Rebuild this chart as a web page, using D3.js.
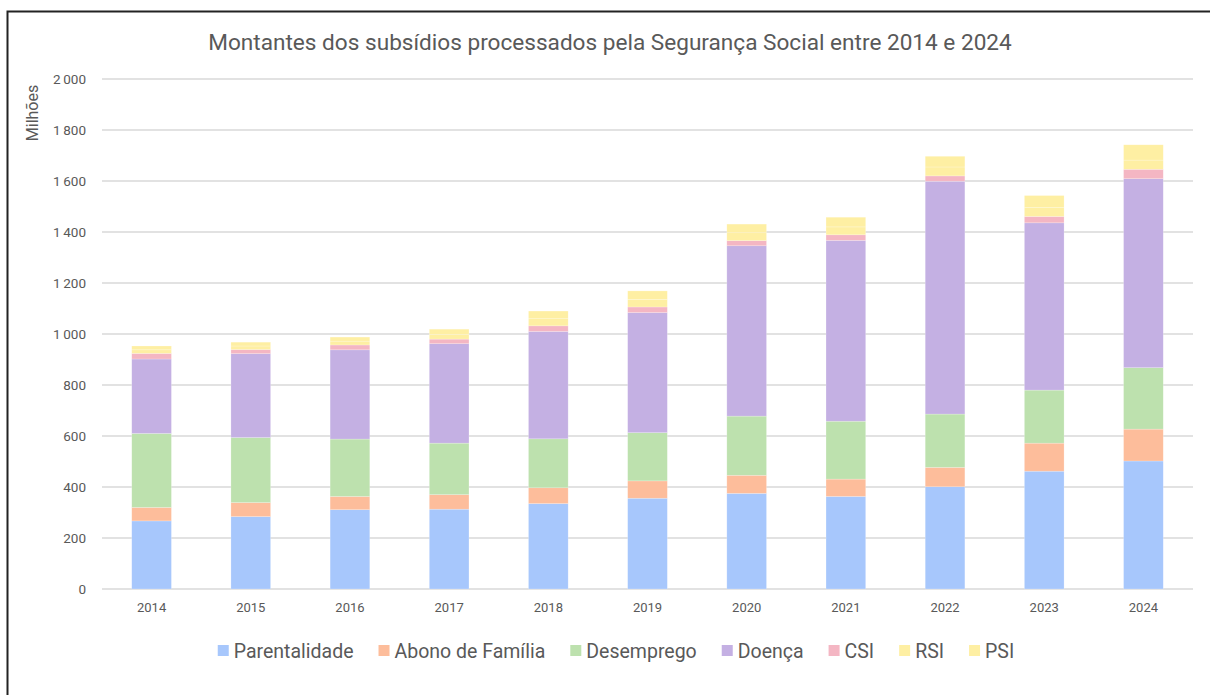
<html>
  <head>
    <meta charset="utf-8"/>
    <style>
      body { margin: 0; background: #fff; }
      text { font-family: Roboto, "Liberation Sans", sans-serif; fill: #595959; }
    </style>
  </head>
  <body>
    <svg></svg>
  </body>
  <script src="https://d3js.org/d3.v7.min.js"></script>
  <script>
  var years = ["2014","2015","2016","2017","2018","2019","2020","2021","2022","2023","2024"];
  var parentalidade = [267, 284, 311, 313, 335, 356, 375, 363, 401, 462, 502];
  var abono = [53, 55, 52, 57, 62, 68, 71, 68, 76, 110, 125];
  var desemprego = [290, 255, 225, 202, 192, 189, 232, 227, 209, 208, 241];
  var doenca = [292, 329, 350, 390, 421, 471, 668, 709, 913, 656, 741];
  var csi = [22, 16, 19, 18, 22, 22, 20, 22, 21, 25, 37];
  var rsi = [14, 14, 15, 19, 28, 30, 31, 31, 35, 35, 36];
  var psi = [15, 15, 16, 20, 30, 33, 34, 38, 42, 47, 60];
  var yTicks = [0, 200, 400, 600, 800, 1000, 1200, 1400, 1600, 1800, 2000];

  var seriesNames = ["Parentalidade", "Abono de Família", "Desemprego", "Doença", "CSI", "RSI", "PSI"];
  var seriesValues = [parentalidade, abono, desemprego, doenca, csi, rsi, psi];
  var colors = ["#a7c7fc", "#fdbd9b", "#bde1ae", "#c4b0e3", "#f4b6c3", "#feefa3", "#feefa3"];

  var W = 1210, H = 695;
  var margin = {top: 79, right: 17, bottom: 106, left: 102};
  var width = W - margin.left - margin.right;
  var height = H - margin.top - margin.bottom;

  var svg = d3.select("svg").attr("width", W).attr("height", H);

  // frame (runs off the right and bottom edges)
  svg.append("rect")
    .attr("x", 7.5).attr("y", 11.5)
    .attr("width", W + 20).attr("height", H + 20)
    .attr("fill", "none").attr("stroke", "#222").attr("stroke-width", 2);

  var table = years.map(function(y, i) {
    var row = {year: y};
    seriesNames.forEach(function(n, k) { row[n] = seriesValues[k][i]; });
    return row;
  });
  var stacked = d3.stack().keys(seriesNames)(table);

  var x = d3.scaleBand().domain(years).range([0, width]).paddingInner(0.6).paddingOuter(0.3);
  var y = d3.scaleLinear().domain([0, 2000]).range([height, 0]);

  var chart = svg.append("g")
    .attr("transform", "translate(" + margin.left + "," + margin.top + ")");

  var fmt = function(d) { return d3.format(",")(d).replace(",", "\u2009"); };

  // grid
  chart.append("g")
    .selectAll("line").data(yTicks).enter().append("line")
    .attr("x1", 0).attr("x2", width)
    .attr("y1", function(d) { return y(d); }).attr("y2", function(d) { return y(d); })
    .attr("stroke", "#d9d9d9").attr("stroke-width", 1.3);

  var yAxis = chart.append("g")
    .call(d3.axisLeft(y).tickValues(yTicks).tickSize(0).tickPadding(16).tickFormat(fmt));
  yAxis.select(".domain").remove();
  yAxis.selectAll("text").style("font-size", "13.5px").attr("fill", "#595959");

  chart.append("g")
    .selectAll("g").data(stacked).enter().append("g")
    .attr("fill", function(d, i) { return colors[i]; })
    .selectAll("rect").data(function(d) { return d; }).enter().append("rect")
    .attr("x", function(d) { return x(d.data.year); })
    .attr("y", function(d) { return y(d[1]); })
    .attr("height", function(d) { return y(d[0]) - y(d[1]); })
    .attr("width", x.bandwidth())
    .attr("stroke", "#ffffff").attr("stroke-opacity", 0.35).attr("stroke-width", 0.6);

  var xAxis = chart.append("g")
    .attr("transform", "translate(0," + height + ")")
    .call(d3.axisBottom(x).tickSize(0).tickPadding(14));
  xAxis.select(".domain").remove();
  xAxis.selectAll("text").style("font-size", "13px").attr("fill", "#595959");

  // title
  svg.append("text")
    .attr("x", 610).attr("y", 50)
    .attr("text-anchor", "middle")
    .style("font-size", "22.6px")
    .text("Montantes dos subsídios processados pela Segurança Social entre 2014 e 2024");

  svg.append("text")
    .attr("transform", "translate(38,113) rotate(-90)")
    .attr("text-anchor", "middle")
    .style("font-size", "16px")
    .text("Milhões");

  // legend
  var legend = svg.append("g");
  var lx = 0;
  seriesNames.forEach(function(n, i) {
    var item = legend.append("g").attr("transform", "translate(" + lx + ",0)");
    item.append("rect").attr("x", 0).attr("y", -6).attr("width", 11).attr("height", 11).attr("fill", colors[i]);
    var t = item.append("text").attr("x", 16).attr("y", 6.5).style("font-size", "19.5px").text(n);
    lx += 16 + t.node().getComputedTextLength() + 25;
  });
  lx -= 25;
  legend.attr("transform", "translate(" + (616 - lx / 2) + ",651)");
  </script>
</html>
